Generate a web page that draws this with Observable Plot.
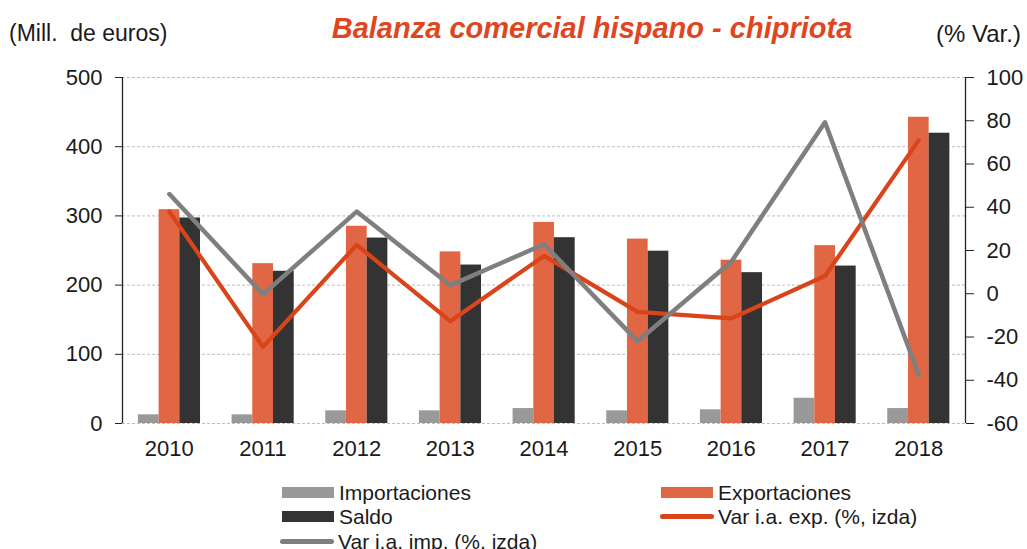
<!DOCTYPE html>
<html>
<head>
<meta charset="utf-8">
<script src="https://cdn.jsdelivr.net/npm/d3@7"></script>
<script src="https://cdn.jsdelivr.net/npm/@observablehq/plot@0.6"></script>
<style>
  body { margin: 0; background: #fff; font-family: "Liberation Sans", Arial, sans-serif; }
  #wrap { position: relative; width: 1027px; height: 549px; overflow: hidden; background: #fff; }
  #chart { position: absolute; left: 0; top: 0; }
  .lbl { position: absolute; color: #1a1a1a; white-space: pre; line-height: 1; }
  #title { position: absolute; left: 0; width: 1184px; text-align: center; top: 14px; font-size: 29px; line-height: 1; font-weight: bold; font-style: italic; color: #E0461E; white-space: nowrap; }
  .leg { position: absolute; font-size: 21px; line-height: 1; color: #1a1a1a; white-space: nowrap; display: flex; align-items: center; }
  .sw { display: inline-block; width: 52px; height: 11px; margin-right: 5px; }
  .ln { display: inline-block; width: 54px; height: 4.5px; border-radius: 3px; margin-right: 4px; }
</style>
</head>
<body>
<div id="wrap">
  <div id="chart"></div>
  <div id="title">Balanza comercial hispano - chipriota</div>
  <div class="lbl" style="left:9px; top:22px; font-size:23px;">(Mill.  de euros)</div>
  <div class="lbl" style="left:936px; top:22px; font-size:24px;">(% Var.)</div>
  <div id="legend"></div>
</div>
<script>
// ---- data ----
const years = [2010, 2011, 2012, 2013, 2014, 2015, 2016, 2017, 2018];
const importaciones = [12.5, 12.5, 18.3, 18.3, 21.6, 18.3, 19.8, 36.5, 21.6];
const exportaciones = [309, 231, 285, 248, 290.5, 266.5, 236, 257, 442.5];
const saldo = [297, 220, 268, 229, 268.5, 249, 218, 227.5, 419.5];
const varExp = [38, -24.6, 22.6, -12.7, 17.5, -8.4, -11.4, 8.2, 70.9];
const varImp = [46.1, -0.3, 38, 3.9, 22.9, -22, 14.8, 79.3, -37.4];
const leftTicks = [0, 100, 200, 300, 400, 500];
const rightTicks = [-60, -40, -20, 0, 20, 40, 60, 80, 100];
const seriesNames = ["Importaciones", "Exportaciones", "Saldo", "Var i.a. exp. (%, izda)", "Var i.a. imp. (%, izda)"];

// ---- styles ----
const colors = {
  imp: "#999999",
  exp: "#E06644",
  saldo: "#333333",
  varExp: "#D9441A",
  varImp: "#7F7F7F"
};
const font = "Liberation Sans, Arial, sans-serif";

const leftMin = leftTicks[0], leftMax = leftTicks[leftTicks.length - 1];
const rightMin = rightTicks[0], rightMax = rightTicks[rightTicks.length - 1];
const toLeft = v => leftMin + (v - rightMin) / (rightMax - rightMin) * (leftMax - leftMin);
const fromLeft = v => rightMin + (v - leftMin) / (leftMax - leftMin) * (rightMax - rightMin);

const xMin = years[0] - 0.5, xMax = years[years.length - 1] + 0.5;
const barW = 0.221, groupStart = -0.33;

const barSeries = [
  {values: importaciones, color: colors.imp},
  {values: exportaciones, color: colors.exp},
  {values: saldo, color: colors.saldo}
];

const barMarks = barSeries.map((s, k) =>
  Plot.rectY(years, {
    x1: d => d + groupStart + k * barW,
    x2: d => d + groupStart + (k + 1) * barW,
    y1: 0,
    y2: (d, i) => s.values[i],
    fill: s.color
  })
);

const chart = Plot.plot({
  width: 1027,
  height: 549,
  marginTop: 77,
  marginBottom: 126,
  marginLeft: 122,
  marginRight: 62,
  style: {fontFamily: font, fontSize: "22px", color: "#1a1a1a", background: "transparent"},
  x: {type: "linear", domain: [xMin, xMax]},
  y: {domain: [leftMin, leftMax]},
  marks: [
    Plot.ruleY(leftTicks, {stroke: "#bdbdbd", strokeWidth: 1, strokeDasharray: "3,2"}),
    ...barMarks,
    Plot.line(years, {x: d => d, y: (d, i) => toLeft(varExp[i]), stroke: colors.varExp, strokeWidth: 4.2, strokeLinecap: "round", strokeLinejoin: "round"}),
    Plot.line(years, {x: d => d, y: (d, i) => toLeft(varImp[i]), stroke: colors.varImp, strokeWidth: 4.5, strokeLinecap: "round", strokeLinejoin: "round"}),
    Plot.ruleX([xMin], {y1: leftMin, y2: leftMax, stroke: "#222", strokeWidth: 1.3}),
    Plot.ruleX([xMax], {y1: leftMin, y2: leftMax, stroke: "#222", strokeWidth: 1.3}),
    Plot.axisY(leftTicks, {anchor: "left", tickSize: 7, tickPadding: 13, fontSize: 22, stroke: "#222", tickFormat: d => String(d), label: null}),
    Plot.axisY(rightTicks.map(toLeft), {anchor: "right", tickSize: 8, tickPadding: 13, fontSize: 22, stroke: "#222", tickFormat: d => String(Math.round(fromLeft(d))), label: null}),
    Plot.axisX(years, {anchor: "bottom", tickSize: 0, tickPadding: 17, fontSize: 22, tickFormat: d => String(d), label: null})
  ]
});
document.getElementById("chart").appendChild(chart);

// ---- legend ----
const legendItems = [
  {name: seriesNames[0], kind: "sw", color: colors.imp, left: 282, top: 482},
  {name: seriesNames[1], kind: "sw", color: colors.exp, left: 661, top: 482},
  {name: seriesNames[2], kind: "sw", color: colors.saldo, left: 282, top: 506},
  {name: seriesNames[3], kind: "ln", color: colors.varExp, left: 660, top: 506},
  {name: seriesNames[4], kind: "ln", color: colors.varImp, left: 280, top: 531}
];
const legend = document.getElementById("legend");
for (const it of legendItems) {
  const div = document.createElement("div");
  div.className = "leg";
  div.style.left = it.left + "px";
  div.style.top = it.top + "px";
  const sw = document.createElement("span");
  sw.className = it.kind;
  sw.style.background = it.color;
  div.appendChild(sw);
  const t = document.createElement("span");
  t.textContent = it.name;
  div.appendChild(t);
  legend.appendChild(div);
}
</script>
</body>
</html>
